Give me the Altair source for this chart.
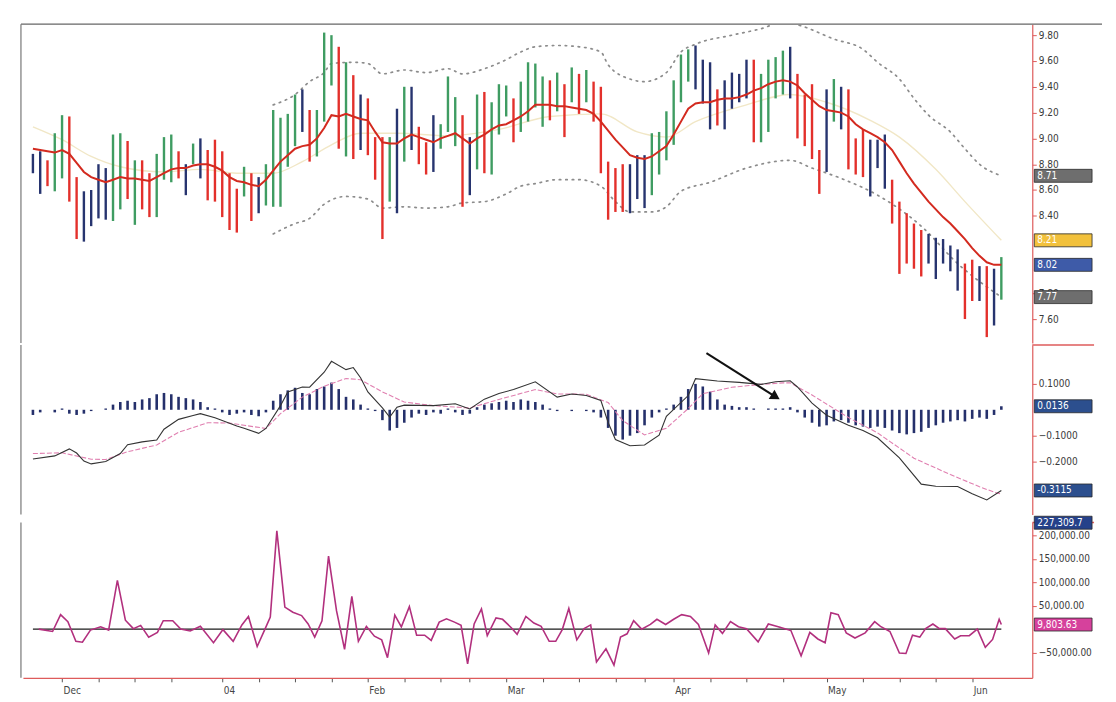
import altair as alt
import pandas as pd

# ---------------- data ----------------
# daily bars, index 0 = late Nov 2003 ... 133 = early Jun 2004
highs = [8.88, 8.90, 8.83, 9.04, 9.18, 9.17, 8.70, 8.59, 8.60, 8.80,
         8.77, 9.03, 9.04, 8.98, 8.83, 8.83, 8.73, 8.88, 9.01, 9.03,
         8.90, 8.80, 8.96, 9.00, 8.91, 8.99, 8.90, 8.73, 8.61, 8.78,
         8.73, 8.70, 8.80, 9.22, 9.16, 9.19, 9.34, 9.38, 9.22, 9.22,
         9.82, 9.80, 9.71, 9.59, 9.49, 9.34, 9.31, 9.01, 9.01, 9.01,
         9.23, 9.40, 9.40, 9.09, 8.97, 9.18, 9.11, 9.48, 9.32, 9.18,
         9.01, 9.34, 9.36, 9.28, 9.42, 9.41, 9.31, 9.44, 9.59, 9.58,
         9.48, 9.45, 9.51, 9.42, 9.55, 9.50, 9.53, 9.44, 9.40, 8.82,
         8.77, 8.80, 8.80, 8.87, 8.87, 9.04, 9.05, 9.21, 9.45, 9.65,
         9.69, 9.72, 9.61, 9.59, 9.38, 9.45, 9.51, 9.50, 9.61, 9.61,
         9.50, 9.61, 9.63, 9.68, 9.71, 9.50, 9.34, 9.42, 8.91, 9.38,
         9.46, 9.40, 9.38, 9.00, 9.07, 8.99, 8.99, 9.03, 8.68, 8.51,
         8.42, 8.34, 8.29, 8.26, 8.23, 8.22, 8.17, 8.14, 8.03, 8.06,
         8.01, 8.01, 7.99, 8.08]
lows = [8.73, 8.57, 8.63, 8.59, 8.69, 8.51, 8.22, 8.20, 8.32, 8.38,
        8.37, 8.36, 8.45, 8.53, 8.33, 8.45, 8.39, 8.39, 8.68, 8.66,
        8.69, 8.56, 8.80, 8.69, 8.52, 8.51, 8.39, 8.29, 8.27, 8.55,
        8.36, 8.42, 8.48, 8.47, 8.47, 8.78, 8.94, 9.05, 8.82, 8.86,
        9.13, 9.41, 8.92, 8.86, 8.84, 8.91, 8.87, 8.68, 8.22, 8.51,
        8.42, 8.82, 8.91, 8.80, 8.72, 8.74, 8.92, 9.05, 8.94, 8.47,
        8.56, 8.76, 8.73, 8.72, 9.03, 9.17, 8.97, 9.05, 9.13, 9.24,
        9.09, 9.14, 9.21, 9.01, 9.28, 9.19, 9.28, 9.13, 8.73, 8.37,
        8.43, 8.43, 8.42, 8.53, 8.46, 8.56, 8.72, 8.83, 8.95, 9.28,
        9.44, 9.38, 9.27, 9.07, 9.10, 9.07, 9.23, 9.28, 9.31, 8.97,
        8.97, 9.05, 9.31, 9.34, 9.31, 9.00, 8.94, 8.84, 8.57, 8.74,
        9.13, 9.07, 8.76, 8.72, 8.70, 8.55, 8.77, 8.61, 8.34, 7.95,
        8.03, 7.99, 7.93, 8.03, 7.91, 8.03, 7.97, 7.82, 7.60, 7.74,
        7.74, 7.46, 7.55, 7.75]
# impulse colour of each bar: g = up, r = down, b = neutral
bar_codes = ("bbrggrrbbb" "bggrgrrggg" "rbgbrrrrrg" "rbgggggbrg" "ggrgrbrrrg"
             "bgbrrbgggr" "bgrgggrggg" "grgrgrgrrr" "rrbbbggggg" "gbbbrbbbbr"
             "ggggbrrrrb" "gbrrrbbbrr" "rrrbbbbbrr" "brbg")
ema13 = [8.92, 8.91, 8.90, 8.89, 8.91, 8.88, 8.81, 8.74, 8.70, 8.68,
         8.66, 8.68, 8.70, 8.69, 8.69, 8.68, 8.67, 8.70, 8.73, 8.76,
         8.77, 8.77, 8.79, 8.80, 8.80, 8.78, 8.75, 8.70, 8.67, 8.66,
         8.64, 8.63, 8.68, 8.75, 8.82, 8.87, 8.92, 8.94, 8.95, 9.00,
         9.08, 9.18, 9.17, 9.19, 9.17, 9.15, 9.14, 9.05, 8.97, 8.96,
         8.96, 9.00, 9.03, 9.01, 8.99, 8.97, 9.00, 9.02, 9.04, 9.00,
         8.96, 9.00, 9.03, 9.07, 9.10, 9.11, 9.14, 9.17, 9.21, 9.26,
         9.26, 9.26, 9.25, 9.25, 9.24, 9.23, 9.22, 9.19, 9.13, 9.06,
         8.99, 8.93, 8.87, 8.85, 8.84, 8.86, 8.90, 8.94, 9.03, 9.13,
         9.23, 9.27, 9.28, 9.28, 9.30, 9.31, 9.31, 9.32, 9.34, 9.37,
         9.39, 9.42, 9.44, 9.45, 9.44, 9.41, 9.35, 9.30, 9.25, 9.22,
         9.21, 9.20, 9.17, 9.11, 9.07, 9.04, 9.01, 8.97, 8.91, 8.82,
         8.73, 8.65, 8.58, 8.51, 8.45, 8.39, 8.34, 8.28, 8.22, 8.15,
         8.09, 8.04, 8.02, 8.02]
ema26_idx = [0, 4, 8, 12, 18, 23, 28, 33, 37, 41, 45, 50, 57, 64, 71, 78, 83, 87,
             91, 98, 104, 109, 115, 119, 124, 128, 133]
ema26 = [9.09, 8.99, 8.86, 8.78, 8.74, 8.76, 8.73, 8.73, 8.82, 8.95, 9.04, 9.04,
         9.02, 9.07, 9.17, 9.19, 9.05, 9.01, 9.13, 9.26, 9.34, 9.28, 9.14, 9.01,
         8.76, 8.51, 8.21]
upper_idx = [33, 36, 38, 40, 41, 44, 46, 48, 51, 54, 57, 59, 62, 65, 67, 69, 72, 75,
             78, 79, 82, 84, 87, 89, 91, 96, 100, 103, 105, 110, 114, 116, 119, 121,
             123, 126, 128, 130, 133]
upper_env = [9.26, 9.34, 9.44, 9.51, 9.58, 9.59, 9.58, 9.50, 9.53, 9.51, 9.54, 9.50,
             9.54, 9.61, 9.67, 9.71, 9.72, 9.71, 9.67, 9.57, 9.46, 9.44, 9.51, 9.67,
             9.73, 9.80, 9.85, 9.90, 9.88, 9.77, 9.69, 9.59, 9.46, 9.31, 9.18, 9.05,
             8.92, 8.80, 8.71]
lower_idx = [33, 36, 38, 40, 43, 46, 48, 51, 54, 57, 59, 62, 65, 67, 69, 72, 75, 78,
             80, 82, 85, 87, 89, 93, 98, 104, 107, 111, 116, 122, 127, 133]
lower_env = [8.26, 8.34, 8.38, 8.49, 8.55, 8.53, 8.46, 8.47, 8.46, 8.47, 8.50, 8.51,
             8.57, 8.63, 8.65, 8.68, 8.68, 8.63, 8.51, 8.43, 8.43, 8.47, 8.59, 8.66,
             8.77, 8.83, 8.77, 8.69, 8.56, 8.32, 8.03, 7.77]

macd_idx = [0, 3, 5, 6, 7, 8, 10, 12, 13, 15, 17, 18, 20, 22, 23, 25, 28, 29, 31, 32,
            34, 35, 37, 38, 40, 41, 43, 44, 45, 46, 48, 49, 50, 51, 55, 58, 60, 62,
            64, 66, 69, 72, 74, 76, 78, 79, 80, 82, 84, 86, 87, 90, 91, 94, 97, 100,
            102, 104, 105, 107, 109, 112, 114, 116, 119, 122, 124, 127, 129, 131, 133]
macd_line = [-0.19, -0.178, -0.151, -0.167, -0.198, -0.209, -0.200, -0.169, -0.135,
             -0.124, -0.117, -0.075, -0.037, -0.022, -0.015, -0.031, -0.063, -0.071,
             -0.091, -0.072, 0.016, 0.069, 0.088, 0.087, 0.145, 0.187, 0.155, 0.163,
             0.124, 0.069, 0.007, -0.028, 0.010, 0.018, 0.016, 0.023, 0.003, 0.041,
             0.063, 0.078, 0.108, 0.049, 0.061, 0.055, 0.036, -0.049, -0.115, -0.139,
             -0.136, -0.098, -0.025, 0.055, 0.120, 0.111, 0.106, 0.098, 0.108, 0.112,
             0.088, 0.026, -0.021, -0.060, -0.080, -0.108, -0.186, -0.287, -0.295,
             -0.296, -0.324, -0.348, -0.3115]
signal_idx = [0, 4, 8, 10, 13, 17, 20, 24, 27, 29, 32, 34, 37, 40, 43, 45, 48, 51, 55,
              60, 64, 69, 72, 76, 79, 81, 84, 87, 90, 92, 96, 100, 103, 104, 107, 112,
              116, 121, 126, 130, 132, 133]
signal_line = [-0.169, -0.166, -0.191, -0.192, -0.162, -0.136, -0.087, -0.050, -0.051,
               -0.060, -0.072, -0.015, 0.049, 0.091, 0.121, 0.116, 0.069, 0.030, 0.016,
               0.007, 0.040, 0.078, 0.061, 0.060, 0.028, -0.042, -0.097, -0.071, 0.005,
               0.062, 0.087, 0.098, 0.104, 0.104, 0.057, -0.030, -0.089, -0.187, -0.250,
               -0.297, -0.318, -0.325]
macd_hist = [-0.02, -0.01, 0.0, -0.01, 0.005, -0.015, -0.02, -0.015, -0.005, 0.0, 0.005,
             0.02, 0.03, 0.035, 0.03, 0.04, 0.045, 0.06, 0.065, 0.06, 0.05, 0.045, 0.04, 0.03,
             0.01, 0.005, -0.01, -0.02, -0.015, -0.01, -0.02, -0.025, -0.01,
             0.035, 0.06, 0.075, 0.085, 0.065, 0.06, 0.08, 0.09, 0.105, 0.08, 0.05, 0.04, 0.02,
             0.005, -0.005,
             -0.04, -0.08, -0.07, -0.05, -0.03,
             -0.015, -0.02, -0.01, -0.015, 0.005, -0.01, -0.02, -0.015, 0.01, 0.02, 0.025, 0.03,
             0.035, 0.03, 0.04, 0.035, 0.03, 0.02,
             0.005, -0.005, 0.0, -0.005, 0.0, -0.005, -0.01,
             -0.03, -0.07, -0.1, -0.115, -0.1, -0.09, -0.06, -0.03, -0.01,
             0.005, 0.02, 0.05, 0.08, 0.1, 0.09, 0.07, 0.04,
             0.02, 0.015, 0.01, 0.01, 0.005, 0.0, 0.005, 0.005, 0.005, 0.01,
             -0.01, -0.03, -0.05, -0.065, -0.06, -0.045, -0.04, -0.05, -0.06, -0.065,
             -0.07, -0.065, -0.07, -0.08, -0.09, -0.095, -0.09, -0.085, -0.07, -0.06,
             -0.05, -0.045, -0.04, -0.045, -0.035, -0.03, -0.035, -0.02,
             0.0136]

force_idx = [0.8, 2.7, 3.8, 4.8, 5.9, 6.8, 7.9, 9.3, 10.4, 11.6,
             12.7, 13.8, 14.8, 15.9, 17.1, 17.9, 19.2, 20.3, 21.6, 23.0,
             24.8, 26.1, 27.5, 28.7, 29.6, 30.8, 31.9, 32.6, 33.5, 34.6,
             35.7, 36.9, 37.8, 38.7, 39.7, 40.6, 41.7, 42.8, 43.8, 44.7,
             45.8, 46.9, 47.9, 48.7, 49.7, 50.6, 51.7, 52.7, 53.8, 54.7,
             55.8, 56.8, 57.9, 58.8, 59.7, 60.6, 61.6, 62.4, 63.6, 64.5,
             65.7, 66.5, 67.7, 68.8, 69.8, 70.9, 71.8, 72.7, 73.6, 74.7,
             75.7, 76.6, 77.4, 78.7, 79.8, 80.7, 81.6, 82.5, 83.6, 84.8,
             85.7, 86.9, 88.0, 89.1, 90.3, 91.4, 92.8, 93.7, 94.7, 95.8,
             96.9, 98.0, 99.6, 101.0, 102.6, 104.1, 105.5, 106.7, 107.8, 108.8,
             109.6, 110.6, 111.7, 112.9, 114.3, 115.6, 116.4, 117.7, 119.0, 119.9,
             120.8, 121.8, 122.6, 123.6, 124.5, 125.3, 126.6, 127.4, 128.6, 129.7,
             130.8, 131.8, 132.7, 133.0]
force_index = [0, -5000, 31000, 16000, -26000, -28000, -2000, 5000, -2000, 104000,
               19000, 1000, 8000, -17000, -7000, 18000, 18000, 0, -4000, 6000,
               -29000, -1000, -26000, 9000, 27000, -37000, 1000, 26000, 210000, 47000,
               36000, 29000, 11000, -17000, 18000, 156000, 39000, -43000, 70000, -26000,
               6000, -15000, -23000, -61000, 30000, 5000, 48000, -13000, -13000, -24000,
               15000, 22000, 15000, 8000, -74000, 11000, 43000, -14000, 24000, 21000,
               3000, -11000, 27000, 13000, 6000, -26000, -26000, -1000, 44000, -23000,
               1000, 9000, -70000, -42000, -77000, -17000, -10000, 18000, 0, 10000,
               21000, 10000, 21000, 31000, 27000, 10000, -51000, 9000, -9000, 16000,
               5000, 1000, -27000, 11000, 4000, -3000, -57000, -7000, -21000, -29000,
               35000, 31000, -8000, -19000, -8000, 16000, 6000, -5000, -51000, -52000,
               -13000, -17000, 1000, 11000, 1000, 1000, -21000, -14000, -14000, 0,
               -39000, -22000, 21000, 9803.63]

month_idx = [4, 26, 46, 65, 88, 109, 129]
month_labels = ["Dec", "04", "Feb", "Mar", "Apr", "May", "Jun"]
minor_idx = [9, 14, 19, 31, 36, 41, 51, 56, 60, 70, 75, 80, 84, 93, 98, 103, 114, 119, 124]
price_ticks = [7.6, 7.8, 8.4, 8.6, 8.8, 9.0, 9.2, 9.4, 9.6, 9.8]
macd_ticks = [0.1, -0.1, -0.2]
force_ticks = [200000, 150000, 100000, 50000, -50000]

price_tag_values = [8.71, 8.21, 8.02, 7.77]
price_tag_labels = ["8.71", "8.21", "8.02", "7.77"]
price_tag_kinds = ["envelope", "ema26", "ema13", "envelope "]
macd_tag_values = [0.0136, -0.3115]
macd_tag_labels = ["0.0136", "-0.3115"]
force_tag_values = [227309.7, 9803.63]
force_tag_labels = ["227,309.7", "9,803.63"]
force_tag_kinds = ["max", "last"]
arrow_start = (92.5, 0.219)
arrow_tip = (102.0, 0.05)

# ---------------- styling ----------------
W = 1013
H_PRICE, H_MACD, H_FORCE = 320, 170, 156
FONT = "Liberation Sans Narrow, DejaVu Sans Condensed, Liberation Sans, sans-serif"
AXIS_RED = "#de5b5b"
RED_BAR, GREEN_BAR, BLUE_BAR = "#e3302b", "#3f9c62", "#27346f"

impulse_names = {"g": "up", "r": "down", "b": "neutral"}
price_df = pd.DataFrame({
    "i": list(range(len(highs))),
    "high": highs, "low": lows, "ema13": ema13,
    "impulse": [impulse_names[c] for c in bar_codes],
})
ema26_df = pd.DataFrame({"i": ema26_idx, "v": ema26})
upper_df = pd.DataFrame({"i": upper_idx, "v": upper_env})
lower_df = pd.DataFrame({"i": lower_idx, "v": lower_env})
macd_df = pd.DataFrame({"i": macd_idx, "v": macd_line})
signal_df = pd.DataFrame({"i": signal_idx, "v": signal_line})
hist_df = pd.DataFrame({"i": list(range(len(macd_hist))), "v": macd_hist})
force_df = pd.DataFrame({"i": force_idx, "v": force_index})
zero_df = pd.DataFrame({"i": [0], "i2": [len(highs) - 1], "v": [0]})
arrow_df = pd.DataFrame({"i": [arrow_start[0]], "i2": [arrow_tip[0]],
                         "v": [arrow_start[1]], "v2": [arrow_tip[1]]})
tip_df = pd.DataFrame({"i": [arrow_tip[0]], "v": [arrow_tip[1]]})
ptag_df = pd.DataFrame({"v": price_tag_values, "label": price_tag_labels, "kind": price_tag_kinds})
mtag_df = pd.DataFrame({"v": macd_tag_values, "label": macd_tag_labels})
ftag_df = pd.DataFrame({"v": force_tag_values, "label": force_tag_labels, "kind": force_tag_kinds})

x_scale = alt.Scale(domain=[-1.37, 137.25], nice=False, zero=False)


def right_axis(values, fmt):
    return alt.Axis(orient="right", values=values, format=fmt, domainColor=AXIS_RED,
                    domainWidth=1.2, tickColor=AXIS_RED, tickSize=4, labelPadding=2,
                    labelFontSize=10, labelColor="#3a3a3a", labelFont=FONT, grid=False,
                    labelOverlap=False, labelFlush=False, title=None)


label_expr = "".join(f"datum.value == {m} ? '{lab}' : " for m, lab in zip(month_idx, month_labels)) + "''"
date_axis = alt.Axis(values=sorted(month_idx + minor_idx), labelExpr=label_expr, orient="bottom",
                     domainColor=AXIS_RED, domainWidth=1.2, tickColor="#555", tickSize=4,
                     labelAlign="left", labelPadding=4, labelOffset=1, labelFontSize=10,
                     labelColor="#444", labelFont=FONT, grid=False, labelFlush=False, title=None)

price_scale = alt.Scale(domain=[7.414, 9.885], nice=False, zero=False)
macd_scale = alt.Scale(domain=[-0.404, 0.25], nice=False, zero=False)
force_scale = alt.Scale(domain=[-104000, 228000], nice=False, zero=False)
price_axis = right_axis(price_ticks, ".2f")
macd_axis = right_axis(macd_ticks, ".4f")
force_axis = right_axis(force_ticks, ",.2f")


def X(field="i", axis=None):
    return alt.X(f"{field}:Q", scale=x_scale, axis=axis, title=None)


def PY(field):
    return alt.Y(f"{field}:Q", scale=price_scale, axis=price_axis, title=None)


def MY(field):
    return alt.Y(f"{field}:Q", scale=macd_scale, axis=macd_axis, title=None)


def FY(field):
    return alt.Y(f"{field}:Q", scale=force_scale, axis=force_axis, title=None)


def frame_left(h):
    return alt.Chart(zero_df).mark_rule(color="#777", strokeWidth=1.2).encode(
        x=alt.value(-2), y=alt.value(0), y2=alt.value(h))


def separator():
    return alt.Chart(zero_df).mark_rule(color=AXIS_RED, strokeWidth=1.5).encode(
        x=alt.value(W), x2=alt.value(W + 62), y=alt.value(0))


def tags(df, yfn, color_enc):
    rect = alt.Chart(df).mark_rect(yOffset=-6.5, y2Offset=6.5, stroke="#2a2a2a", strokeWidth=0.8).encode(
        x=alt.value(W + 2), x2=alt.value(W + 60), y=yfn("v"), y2="v:Q", color=color_enc)
    text = alt.Chart(df).mark_text(align="left", baseline="middle", color="white",
                                   fontSize=10, font=FONT).encode(
        x=alt.value(W + 5), y=yfn("v"), text="label:N")
    return rect, text


# ---------------- price panel ----------------
top_frame = alt.Chart(zero_df).mark_rule(color="#666", strokeWidth=1.3).encode(
    x=alt.value(-2), x2=alt.value(W + 70), y=alt.value(0))
ema26_line = alt.Chart(ema26_df).mark_line(color="#f1e7c6", strokeWidth=1.4, interpolate="monotone").encode(
    x=X(), y=PY("v"))
upper_line = alt.Chart(upper_df).mark_line(color="#8c8c8c", strokeWidth=1.7, strokeDash=[1.5, 5],
                                           strokeCap="round", clip=True, interpolate="monotone").encode(
    x=X(), y=PY("v"))
lower_line = alt.Chart(lower_df).mark_line(color="#8c8c8c", strokeWidth=1.7, strokeDash=[1.5, 5],
                                           strokeCap="round", clip=True, interpolate="monotone").encode(
    x=X(), y=PY("v"))
bars = alt.Chart(price_df).mark_rule(strokeWidth=2.4).encode(
    x=X(), y=PY("low"), y2="high:Q",
    color=alt.Color("impulse:N", scale=alt.Scale(domain=["up", "down", "neutral"],
                                                  range=[GREEN_BAR, RED_BAR, BLUE_BAR]), legend=None))
ema13_line = alt.Chart(price_df).mark_line(color="#d32a1f", strokeWidth=2).encode(x=X(), y=PY("ema13"))
p_rect, p_text = tags(ptag_df, PY, alt.Color(
    "kind:N", scale=alt.Scale(domain=["envelope", "ema26", "ema13", "envelope "],
                              range=["#6e6e6e", "#f2c13c", "#3e5ba8", "#6e6e6e"]), legend=None))
price = alt.layer(top_frame, frame_left(H_PRICE), ema26_line, upper_line, lower_line, bars, ema13_line,
                  p_rect, p_text).resolve_scale(color="independent").properties(width=W, height=H_PRICE)

# ---------------- MACD panel ----------------
hist = alt.Chart(hist_df).mark_rule(strokeWidth=2.6, color="#25306b").encode(
    x=X(), y=MY("v"), y2=alt.datum(0))
signal = alt.Chart(signal_df).mark_line(color="#e07fb0", strokeWidth=1.1, strokeDash=[5, 2]).encode(
    x=X(), y=MY("v"))
macd = alt.Chart(macd_df).mark_line(color="#333333", strokeWidth=1.1).encode(x=X(), y=MY("v"))
arrow = alt.Chart(arrow_df).mark_rule(color="#111", strokeWidth=2).encode(
    x=X(), x2="i2:Q", y=MY("v"), y2="v2:Q")
arrow_head = alt.Chart(tip_df).mark_point(shape="triangle-right", filled=True, size=120, angle=32,
                                          color="#111", opacity=1).encode(x=X(), y=MY("v"))
m_rect, m_text = tags(mtag_df, MY, alt.value("#2c4f8e"))
macd_panel = alt.layer(frame_left(H_MACD), separator(), hist, signal, macd, arrow, arrow_head,
                       m_rect, m_text).properties(width=W, height=H_MACD)

# ---------------- force index panel ----------------
zero_line = alt.Chart(zero_df).mark_rule(color="#1b1b1b", strokeWidth=1.3).encode(
    x=X("i", date_axis), x2="i2:Q", y=FY("v"))
force_line = alt.Chart(force_df).mark_line(color="#b2307e", strokeWidth=1.6).encode(
    x=X("i", date_axis), y=FY("v"))
f_rect, f_text = tags(ftag_df, FY, alt.Color(
    "kind:N", scale=alt.Scale(domain=["max", "last"], range=["#25418a", "#d6419c"]), legend=None))
force_panel = alt.layer(frame_left(H_FORCE), separator(), zero_line, force_line, f_rect, f_text
                        ).properties(width=W, height=H_FORCE)

chart = alt.vconcat(price, macd_panel, force_panel, spacing=0).configure_view(
    stroke=None).properties(padding={"left": 12, "top": 14, "right": 5, "bottom": 5})

chart.save("out.html", embed_options={"renderer": "svg", "actions": False})
